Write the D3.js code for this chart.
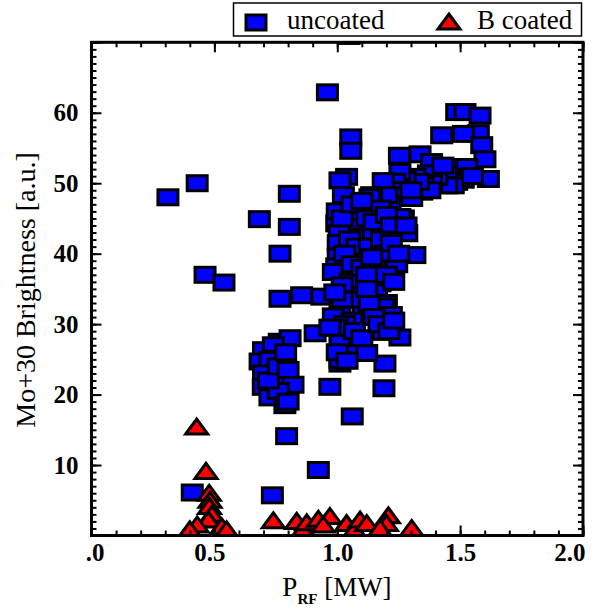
<!DOCTYPE html>
<html><head><meta charset="utf-8">
<script src="https://cdn.jsdelivr.net/npm/d3@7"></script>
<style>body{margin:0;background:#fff}svg{display:block}</style>
</head><body>
<svg id="c" width="599" height="612"></svg>
<script>
// uncoated: [P_RF (MW), Mo+30 brightness]
const uncoated = [
[0.311,48.0],[0.43,50.0],[0.462,37.0],[0.539,35.9],[0.41,6.1],[0.683,44.9],[0.805,48.5],
[0.805,43.8],[0.767,40.0],[0.767,33.6],[0.855,34.1],[0.937,33.9],[0.736,5.7],[0.923,9.3],
[0.794,14.1],[1.061,16.9],[0.97,21.1],[1.19,20.9],[1.194,24.4],[1.048,70.9],[0.96,62.9],
[1.055,56.5],[1.055,54.6],[1.038,50.9],[1.011,50.4],[1.025,48.3],[1.253,53.9],[1.337,54.1],
[1.384,53.0],[1.425,56.8],[1.486,60.1],[1.52,60.1],[1.581,59.6],[1.574,57.1],[1.513,57.0],
[1.588,55.4],[1.601,53.4],[1.615,50.6],[1.493,52.3],[1.527,52.3],[1.506,50.9],[1.513,50.5],
[1.486,50.2],[1.445,51.4],[1.472,49.7],[1.445,49.7],[1.405,50.9],[1.371,51.4],[1.384,50.0],
[1.35,49.7],[1.344,48.8],[1.377,49.0],[1.316,50.9],[1.33,50.2],[1.276,50.5],[1.255,51.6],
[1.235,50.2],[1.255,49.0],[1.269,49.0],[1.228,48.3],[1.303,47.9],[1.215,47.1],[1.187,50.3],
[1.20,48.3],[1.14,48.3],[1.133,48.0],[1.174,46.4],[1.079,46.4],[1.269,45.0],[1.255,45.2],
[1.045,44.8],[0.998,44.3],[1.079,43.8],[1.10,42.4],[1.147,42.9],[1.283,42.9],[1.008,42.9],
[1.004,41.5],[1.106,40.8],[1.174,40.5],[1.316,39.8],[1.004,39.6],[1.144,38.9],[1.242,38.5],
[0.998,38.2],[1.154,38.6],[0.984,37.4],[1.052,36.0],[1.079,36.0],[1.174,35.8],[1.16,34.5],
[1.052,34.1],[1.2,33.0],[1.187,32.5],[1.106,31.8],[1.22,31.3],[1.011,32.0],[0.984,31.1],
[1.045,28.9],[1.187,28.9],[0.91,28.7],[1.255,28.1],[1.038,27.3],[1.011,27.3],[1.12,25.9],
[1.038,25.9],[1.011,24.4],[1.011,24.9],
[0.764,27.5],[0.808,28.0],[0.70,26.3],[0.74,27.0],[0.686,24.7],[0.74,25.1],[0.726,24.9],
[0.754,23.0],[0.70,23.0],[0.78,22.0],[0.82,21.4],[0.699,21.1],[0.726,19.6],[0.76,20.5],
[0.787,18.5],[0.80,19.0],[0.72,22.0],[0.76,24.0],[0.79,26.0],[0.80,23.5],
[1.0,46],[1.02,45],[1.06,47],[1.1,47.5],[1.12,45],[1.15,44.5],[1.2,45.5],[1.22,44],
[1.05,42],[1.08,41],[1.13,41],[1.18,42],[1.2,40],[1.22,41.5],[1.03,40],[1.06,38.5],
[1.1,38],[1.12,37],[1.2,37],[1.23,36],[1.02,35.5],[1.08,33.5],[1.13,33],[1.15,31],
[1.06,30.5],[1.03,30],[1.0,29.5],[0.97,29.5],[1.07,29],[1.1,28],[1.0,26],[1.04,24.8],
[1.02,33.5],[0.99,34.5],[1.12,35],[1.17,30],[1.21,29],[1.23,30.5],[1.14,39.5],[1.25,40],
[1.28,44],[1.3,49],[1.43,52.5],[1.55,51]
];
// B coated
const coated = [
[0.428,15.4],[0.466,9.1],[0.479,6.0],[0.482,5.0],[0.48,4.1],[0.49,3.0],[0.475,2.2],[0.43,1.5],
[0.53,1.25],[0.55,0.8],[0.40,0.8],[0.74,2.1],[0.835,2.0],[0.86,0.8],[0.876,1.8],[0.923,2.3],
[0.97,2.7],[0.943,1.5],[1.038,1.7],[1.07,0.8],[1.093,2.2],[1.12,1.7],[1.208,2.8],[1.2,1.7],
[1.174,1.0],[1.303,1.0]
];
const xMajor = [0, 0.5, 1.0, 1.5, 2.0];
const xMinor = d3.range(0, 2.0001, 0.1);
const yMajor = [0, 10, 20, 30, 40, 50, 60, 70];
const yLabels = [10, 20, 30, 40, 50, 60];
const yMinor = d3.range(0, 70.001, 1);
const seriesNames = ["uncoated", "B coated"];

const svg = d3.select("#c");
const L = 91.5, R = 583, T = 42.3, B = 535.5;
const x = d3.scaleLinear().domain([0, 2]).range([L, R]);
const y = d3.scaleLinear().domain([0, 70]).range([B, T]);
const font = "'Liberation Serif','Times New Roman',serif";

svg.append("defs").append("clipPath").attr("id", "clip")
  .append("rect").attr("x", L).attr("y", T).attr("width", R - L).attr("height", B - T);

const plot = svg.append("g").attr("clip-path", "url(#clip)");
const sqW = 20, sqH = 15;
plot.selectAll("rect.u").data(uncoated).join("rect").attr("class", "u")
  .attr("x", d => x(d[0]) - sqW / 2).attr("y", d => y(d[1]) - sqH / 2)
  .attr("width", sqW).attr("height", sqH)
  .attr("fill", "#0000ff").attr("stroke", "#000").attr("stroke-width", 3);
const tri = (cx, cy) => `M${cx - 11},${cy + 7}L${cx},${cy - 8}L${cx + 11},${cy + 7}Z`;
plot.selectAll("path.c").data(coated).join("path").attr("class", "c")
  .attr("d", d => tri(x(d[0]), y(d[1])))
  .attr("fill", "#ff0000").attr("stroke", "#000").attr("stroke-width", 3)
  .attr("stroke-linejoin", "miter");

// axes
function styleAxis(g) {
  g.select(".domain").remove();
  g.selectAll(".tick line").attr("stroke", "#000").attr("stroke-width", 2);
  g.selectAll(".tick text").attr("font-family", font).attr("font-size", 25)
    .attr("font-weight", "bold").attr("fill", "#000");
}
const fmtX = v => v === 0 ? ".0" : d3.format(".1f")(v);
svg.append("g").attr("transform", `translate(0,${B})`)
  .call(d3.axisBottom(x).tickValues(xMinor).tickSize(-5).tickFormat("")).call(styleAxis);
const xb = svg.append("g").attr("transform", `translate(0,${B})`)
  .call(d3.axisBottom(x).tickValues(xMajor).tickSize(-10).tickPadding(8).tickFormat(fmtX)).call(styleAxis);
xb.selectAll(".tick text").filter(d => d === 2).attr("text-anchor", "end").attr("dx", 2);
xb.selectAll(".tick text").filter(d => d === 0).attr("dx", 3);
xb.selectAll(".tick text").filter(d => d === 0.5).attr("dx", -5);
svg.append("g").attr("transform", `translate(0,${T})`)
  .call(d3.axisTop(x).tickValues(xMinor).tickSize(-5).tickFormat("")).call(styleAxis);
svg.append("g").attr("transform", `translate(0,${T})`)
  .call(d3.axisTop(x).tickValues(xMajor).tickSize(-10).tickFormat("")).call(styleAxis);

svg.append("g").attr("transform", `translate(${L},0)`)
  .call(d3.axisLeft(y).tickValues(yMinor).tickSize(-5).tickFormat("")).call(styleAxis);
svg.append("g").attr("transform", `translate(${L},0)`)
  .call(d3.axisLeft(y).tickValues(yMajor).tickSize(-10).tickPadding(13)
    .tickFormat(v => yLabels.includes(v) ? String(v) : "")).call(styleAxis);
svg.append("g").attr("transform", `translate(${R},0)`)
  .call(d3.axisRight(y).tickValues(yMinor).tickSize(-5).tickFormat("")).call(styleAxis);
svg.append("g").attr("transform", `translate(${R},0)`)
  .call(d3.axisRight(y).tickValues(yMajor).tickSize(-10).tickFormat("")).call(styleAxis);

// frame
svg.append("rect").attr("x", L).attr("y", T).attr("width", R - L).attr("height", B - T)
  .attr("fill", "none").attr("stroke", "#000").attr("stroke-width", 3);

// axis titles
const xt = svg.append("text").attr("x", 337).attr("y", 596).attr("text-anchor", "middle")
  .attr("font-family", font).attr("font-size", 27).attr("fill", "#000");
xt.append("tspan").text("P");
xt.append("tspan").attr("font-size", 15).attr("font-weight", "bold").attr("dy", 8).text("RF");
xt.append("tspan").attr("dy", -8).text(" [MW]");

svg.append("text").attr("transform", "translate(35,290) rotate(-90)").attr("text-anchor", "middle")
  .attr("font-family", font).attr("font-size", 28).attr("fill", "#000")
  .text("Mo+30 Brightness [a.u.]");

// legend
const lg = svg.append("g");
lg.append("rect").attr("x", 233.5).attr("y", 3).attr("width", 348).attr("height", 33)
  .attr("fill", "#fff").attr("stroke", "#000").attr("stroke-width", 1.5);
lg.append("rect").attr("x", 246).attr("y", 15).attr("width", sqW).attr("height", sqH)
  .attr("fill", "#0000ff").attr("stroke", "#000").attr("stroke-width", 3);
lg.append("text").attr("x", 287).attr("y", 29).attr("font-family", font).attr("font-size", 27)
  .text(seriesNames[0]);
lg.append("path").attr("d", tri(449, 22)).attr("fill", "#ff0000").attr("stroke", "#000").attr("stroke-width", 3);
lg.append("text").attr("x", 477).attr("y", 29).attr("font-family", font).attr("font-size", 27)
  .text(seriesNames[1]);
</script>
</body></html>
